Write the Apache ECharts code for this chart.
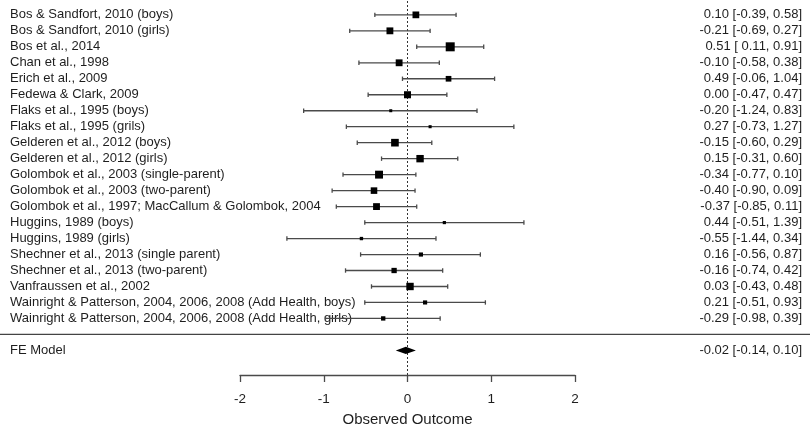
<!DOCTYPE html>
<html>
<head>
<meta charset="utf-8">
<script src="https://cdn.jsdelivr.net/npm/echarts@6/dist/echarts.min.js"></script>
<style>
  html, body { margin: 0; padding: 0; background: #fff; }
  #chart { width: 810px; height: 432px; }
</style>
</head>
<body>
<div id="chart"></div>
<script>
// Study list, top to bottom
const studies = [
  'Bos & Sandfort, 2010 (boys)',
  'Bos & Sandfort, 2010 (girls)',
  'Bos et al., 2014',
  'Chan et al., 1998',
  'Erich et al., 2009',
  'Fedewa & Clark, 2009',
  'Flaks et al., 1995 (boys)',
  'Flaks et al., 1995 (grils)',
  'Gelderen et al., 2012 (boys)',
  'Gelderen et al., 2012 (girls)',
  'Golombok et al., 2003 (single-parent)',
  'Golombok et al., 2003 (two-parent)',
  'Golombok et al., 1997; MacCallum & Golombok, 2004',
  'Huggins, 1989 (boys)',
  'Huggins, 1989 (girls)',
  'Shechner et al., 2013 (single parent)',
  'Shechner et al., 2013 (two-parent)',
  'Vanfraussen et al., 2002',
  'Wainright & Patterson, 2004, 2006, 2008 (Add Health, boys)',
  'Wainright & Patterson, 2004, 2006, 2008 (Add Health, girls)'
];
const estimates = [0.10, -0.21, 0.51, -0.10, 0.49, 0.00, -0.20, 0.27, -0.15, 0.15,
                   -0.34, -0.40, -0.37, 0.44, -0.55, 0.16, -0.16, 0.03, 0.21, -0.29];
const lowerCI = [-0.39, -0.69, 0.11, -0.58, -0.06, -0.47, -1.24, -0.73, -0.60, -0.31,
                 -0.77, -0.90, -0.85, -0.51, -1.44, -0.56, -0.74, -0.43, -0.51, -0.98];
const upperCI = [0.58, 0.27, 0.91, 0.38, 1.04, 0.47, 0.83, 1.27, 0.29, 0.60,
                 0.10, 0.09, 0.11, 1.39, 0.34, 0.87, 0.42, 0.48, 0.93, 0.39];

// Pooled fixed-effect model
const modelLabel = 'FE Model';
const modelEstimate = [-0.02];
const modelLower = [-0.14];
const modelUpper = [0.10];

const xTicks = [-2, -1, 0, 1, 2];
const xTitle = 'Observed Outcome';

// Row layout: studies k..1, separator at 0, model at -1
const k = studies.length;
const studyRows = studies.map((_, i) => k - i);
const sepRow = 0;
const modelRow = -1;
const yMin = -2.54, yMax = 20.93;

// Box size grows linearly with inverse-variance weight (0.5 .. 1.5 scale)
const weights = lowerCI.map((lo, i) => {
  const se = (upperCI[i] - lo) / (2 * 1.96);
  return 1 / (se * se);
});
const wMin = Math.min(...weights), wMax = Math.max(...weights);
const boxScale = weights.map(w => 0.5 + (w - wMin) / (wMax - wMin));

const fmt = v => v.toFixed(2);
const padNum = v => (v >= 0 ? ' ' : '') + fmt(v);
const ciText = (e, lo, hi) => fmt(e) + ' [' + padNum(lo) + ', ' + fmt(hi) + ']';

const leftText = {}, rightText = {};
studies.forEach((s, i) => {
  leftText[studyRows[i]] = s;
  rightText[studyRows[i]] = ciText(estimates[i], lowerCI[i], upperCI[i]);
});
leftText[modelRow] = modelLabel;
rightText[modelRow] = ciText(modelEstimate[0], modelLower[0], modelUpper[0]);
const labelRows = studyRows.concat([modelRow]);

const FONT = 'Liberation Sans, Arial, sans-serif';
const TEXT_COLOR = '#1e1e1e';
const LINE_COLOR = '#4a4a4a';

const studyData = studies.map((_, i) => [estimates[i], lowerCI[i], upperCI[i], studyRows[i], boxScale[i]]);
const modelData = [[modelEstimate[0], modelLower[0], modelUpper[0], modelRow]];

const chart = echarts.init(document.getElementById('chart'), null, { renderer: 'canvas' });

chart.setOption({
  animation: false,
  backgroundColor: '#fff',
  grid: { left: 240, right: 235, top: 0, bottom: 55, containLabel: false },
  xAxis: {
    type: 'value', min: xTicks[0], max: xTicks[xTicks.length - 1], interval: 1,
    axisLine: { show: true, onZero: false, lineStyle: { color: LINE_COLOR, width: 1.3 } },
    axisTick: { show: true, inside: false, length: 7, lineStyle: { color: LINE_COLOR, width: 1.3 } },
    splitLine: { show: false },
    axisLabel: { margin: 17, fontSize: 13.5, color: TEXT_COLOR, fontFamily: FONT },
    name: xTitle, nameLocation: 'middle', nameGap: 37,
    nameTextStyle: { fontSize: 15, color: TEXT_COLOR, fontFamily: FONT }
  },
  yAxis: [{
    type: 'value', min: yMin, max: yMax, position: 'left',
    axisLine: { show: false }, axisTick: { show: false }, splitLine: { show: false },
    axisLabel: {
      customValues: labelRows, formatter: v => leftText[v] || '',
      align: 'left', margin: 230, fontSize: 13, color: TEXT_COLOR, fontFamily: FONT
    }
  }, {
    type: 'value', min: yMin, max: yMax, position: 'right',
    axisLine: { show: false }, axisTick: { show: false }, splitLine: { show: false },
    axisLabel: {
      customValues: labelRows, formatter: v => rightText[v] || '',
      align: 'right', margin: 227, fontSize: 13, color: TEXT_COLOR, fontFamily: FONT
    }
  }],
  series: [{
    type: 'custom',
    name: 'studies',
    silent: true,
    z: 5,
    encode: { x: [0, 1, 2], y: 3 },
    data: studyData,
    renderItem: (params, api) => {
      const row = api.value(3);
      const pEst = api.coord([api.value(0), row]);
      const pLo = api.coord([api.value(1), row]);
      const pHi = api.coord([api.value(2), row]);
      const s = 6 * api.value(4);
      const cap = 2.2;
      const lineStyle = { stroke: LINE_COLOR, lineWidth: 1.3 };
      return {
        type: 'group',
        children: [
          { type: 'line', shape: { x1: pLo[0], y1: pLo[1], x2: pHi[0], y2: pHi[1] }, style: lineStyle },
          { type: 'line', shape: { x1: pLo[0], y1: pLo[1] - cap, x2: pLo[0], y2: pLo[1] + cap }, style: lineStyle },
          { type: 'line', shape: { x1: pHi[0], y1: pHi[1] - cap, x2: pHi[0], y2: pHi[1] + cap }, style: lineStyle },
          { type: 'rect', shape: { x: pEst[0] - s / 2, y: pEst[1] - s / 2, width: s, height: s }, style: { fill: '#000' } }
        ]
      };
    },
    markLine: {
      silent: true, symbol: 'none',
      label: { show: false },
      lineStyle: { color: '#333', type: [2, 2], width: 1 },
      data: [{ xAxis: 0 }]
    }
  }, {
    type: 'custom',
    name: 'model',
    silent: true,
    z: 6,
    encode: { x: [0, 1, 2], y: 3 },
    data: modelData,
    renderItem: (params, api) => {
      const row = api.value(3);
      const pEst = api.coord([api.value(0), row]);
      const pLo = api.coord([api.value(1), row]);
      const pHi = api.coord([api.value(2), row]);
      const h = 3.6;
      return {
        type: 'polygon',
        shape: { points: [[pLo[0], pLo[1]], [pEst[0], pEst[1] - h], [pHi[0], pHi[1]], [pEst[0], pEst[1] + h]] },
        style: { fill: '#000' }
      };
    }
  }]
});

// Full-width separator between the studies and the pooled model
const sepY = chart.convertToPixel({ yAxisIndex: 0 }, sepRow);
chart.setOption({
  graphic: [{
    type: 'line', silent: true,
    shape: { x1: 0, y1: sepY, x2: 810, y2: sepY },
    style: { stroke: '#444', lineWidth: 1.3 }
  }]
});
</script>
</body>
</html>
